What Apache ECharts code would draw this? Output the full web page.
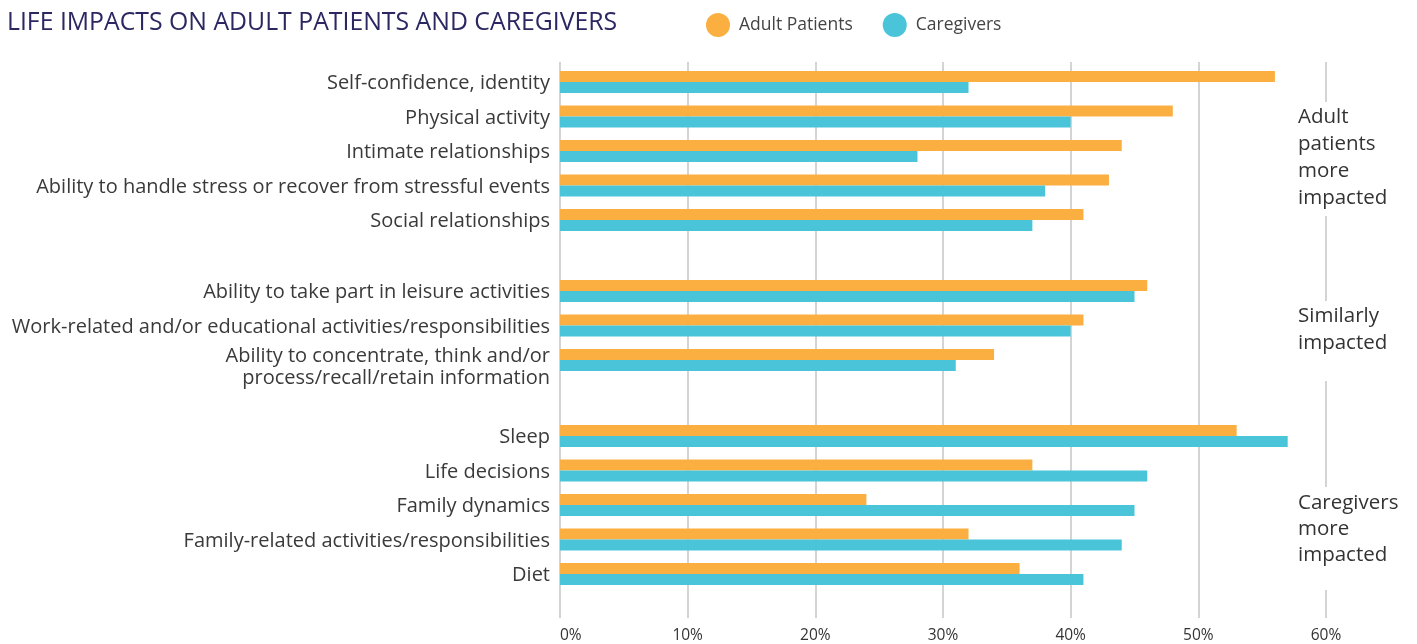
<!DOCTYPE html>
<html>
<head>
<meta charset="utf-8">
<script src="https://cdn.jsdelivr.net/npm/echarts@6/dist/echarts.min.js"></script>
<style>
html,body{margin:0;padding:0;background:#fff;}
#main{width:1417px;height:644px;}
</style>
</head>
<body>
<div id="main"></div>
<script>
// three groups of categories, drawn top to bottom
var groupA = ['Self-confidence, identity', 'Physical activity', 'Intimate relationships',
	'Ability to handle stress or recover from stressful events', 'Social relationships'];
var groupB = ['Ability to take part in leisure activities',
	'Work-related and/or educational activities/responsibilities',
	'Ability to concentrate, think and/or\nprocess/recall/retain information'];
var groupC = ['Sleep', 'Life decisions', 'Family dynamics',
	'Family-related activities/responsibilities', 'Diet'];

var patientsA = [56, 48, 44, 43, 41];
var caregiversA = [32, 40, 28, 38, 37];
var patientsB = [46, 41, 34];
var caregiversB = [45, 40, 31];
var patientsC = [53, 37, 24, 32, 36];
var caregiversC = [57, 46, 45, 44, 41];

var xTicks = [0, 10, 20, 30, 40, 50, 60];

var orange = '#FBAF41';
var teal = '#4AC4D9';
var font = 'Open Sans';

var myChart = echarts.init(document.getElementById('main'));

function catAxis(idx, cats) {
	return {
		type : 'category',
		gridIndex : idx,
		inverse : true,
		data : cats,
		axisLine : { show : false },
		axisTick : { show : false },
		axisLabel : {
			interval : 0,
			hideOverlap : false,
			margin : 10,
			padding : [3, 0, 0, 0],
			fontFamily : font,
			fontSize : 20,
			color : '#3a3a3a',
			// two line labels hang a little below the bars
			formatter : function(v) {
				if (v.indexOf('\n') < 0) return v;
				return '{g| }\n' + v.split('\n').map(function(s) {
					return '{c|' + s + '}';
				}).join('\n');
			},
			rich : {
				g : { fontSize : 10, lineHeight : 12 },
				c : { fontFamily : font, fontSize : 20, color : '#3a3a3a', lineHeight : 22, align : 'right' }
			}
		}
	};
}

function hiddenX(idx) {
	return {
		type : 'value',
		gridIndex : idx,
		min : xTicks[0],
		max : xTicks[xTicks.length - 1],
		show : false
	};
}

function bars(idx, name, values, color) {
	return {
		name : name,
		type : 'bar',
		xAxisIndex : idx,
		yAxisIndex : idx,
		barWidth : 11,
		barGap : '0%',
		itemStyle : { color : color },
		data : values
	};
}

option = {
	title : {
		text : 'LIFE IMPACTS ON ADULT PATIENTS AND CAREGIVERS',
		left : 2,
		top : 5,
		textStyle : {
			fontFamily : font,
			fontWeight : 'normal',
			fontSize : 24.8,
			color : '#2B2761'
		}
	},
	legend : {
		left : 701,
		top : 8,
		itemWidth : 24,
		itemHeight : 24,
		itemGap : 30,
		icon : 'circle',
		textStyle : {
			fontFamily : font,
			fontSize : 17.5,
			color : '#444',
			padding : [0, 0, 0, 4]
		},
		data : ['Adult Patients', 'Caregivers']
	},
	grid : [
		// background grid for the gridlines and the % ticks
		{ left : 560, right : 91, top : 62, bottom : 24 },
		{ left : 560, right : 91, top : 64.75, height : 172.5 },
		{ left : 560, right : 91, top : 273.75, height : 103.5 },
		{ left : 560, right : 91, top : 418.75, height : 172.5 }
	],
	xAxis : [ {
		type : 'value',
		gridIndex : 0,
		min : xTicks[0],
		max : xTicks[xTicks.length - 1],
		interval : 10,
		axisLine : { show : false },
		axisTick : { show : false },
		splitLine : { lineStyle : { color : '#d4d4d4', width : 2 } },
		axisLabel : {
			margin : 10,
			alignMinLabel : 'left',
			fontFamily : font,
			fontSize : 15.5,
			color : '#333',
			formatter : '{value}%'
		}
	}, hiddenX(1), hiddenX(2), hiddenX(3) ],
	yAxis : [ {
		type : 'value',
		gridIndex : 0,
		show : false
	}, catAxis(1, groupA), catAxis(2, groupB), catAxis(3, groupC) ],
	series : [
		bars(1, 'Adult Patients', patientsA, orange),
		bars(1, 'Caregivers', caregiversA, teal),
		bars(2, 'Adult Patients', patientsB, orange),
		bars(2, 'Caregivers', caregiversB, teal),
		bars(3, 'Adult Patients', patientsC, orange),
		bars(3, 'Caregivers', caregiversC, teal)
	],
	graphic : [ {
		type : 'text', z : 100, left : 1298, top : 102,
		style : {
			text : 'Adult\npatients\nmore\nimpacted',
			font : '20.5px "Open Sans"', fill : '#333', lineHeight : 27,
			backgroundColor : '#fff', padding : [2, 8, 4, 0]
		}
	}, {
		type : 'text', z : 100, left : 1298, top : 301,
		style : {
			text : 'Similarly\nimpacted',
			font : '20.5px "Open Sans"', fill : '#333', lineHeight : 27,
			backgroundColor : '#fff', padding : [2, 8, 24, 0]
		}
	}, {
		type : 'text', z : 100, left : 1298, top : 487,
		style : {
			text : 'Caregivers\nmore\nimpacted',
			font : '20.5px "Open Sans"', fill : '#333', lineHeight : 26,
			backgroundColor : '#fff', padding : [3, 8, 22, 0]
		}
	} ]
};
myChart.setOption(option);
</script>
</body>
</html>
